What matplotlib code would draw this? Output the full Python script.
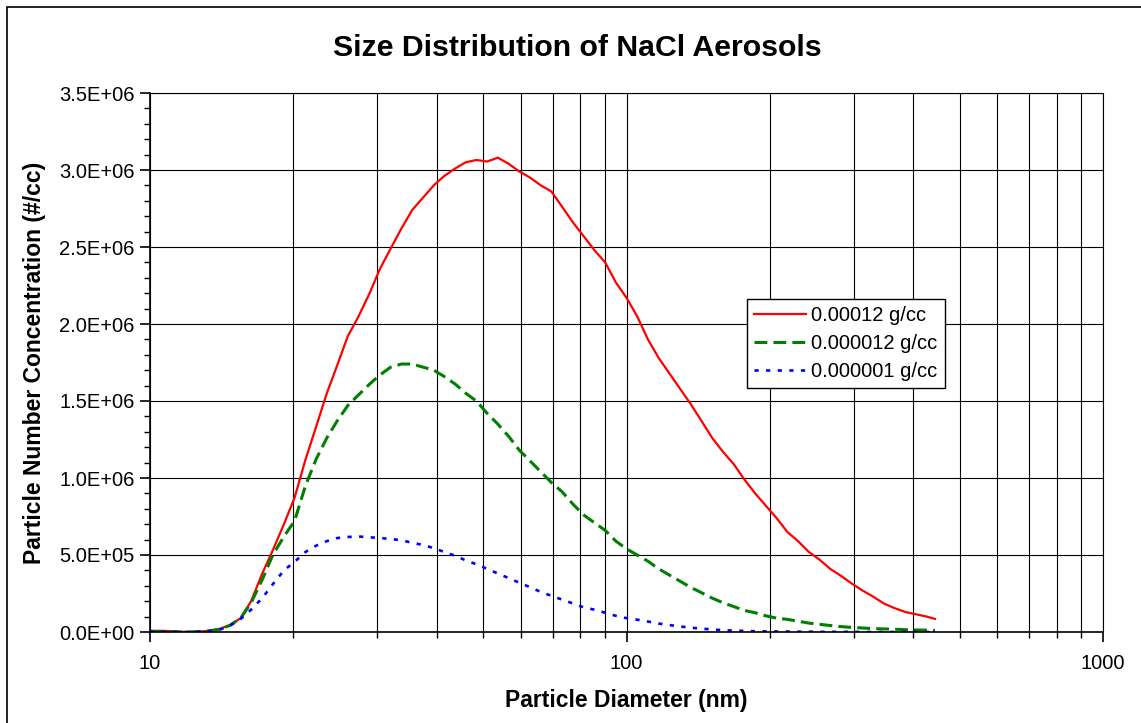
import numpy as np
import matplotlib
matplotlib.use("Agg")
import matplotlib.pyplot as plt
from matplotlib import ticker
from matplotlib.patches import Rectangle

plt.rcParams["font.family"] = ["Liberation Sans", "DejaVu Sans"]

# particle diameter (nm)
diam = [10, 10.5, 11, 11.5, 12, 12.6, 13.3, 14, 14.7, 15.5, 16.3, 17.2, 18.1, 19.1, 20.1,
        21.2, 22.3, 23.5, 24.7, 26.0, 27.4, 28.9, 30.4, 32.0, 33.7, 35.5, 37.4, 39.4, 41.4,
        43.7, 46.0, 48.4, 51.0, 53.7, 56.6, 59.6, 62.8, 66.1, 69.6, 73.3, 77.2, 81.3, 85.6,
        90.2, 95.0, 100, 105.3, 110.9, 116.8, 123, 129.5, 136.4, 143.7, 151.3, 159.4, 167.9,
        176.8, 186.2, 196.1, 206.5, 217.5, 229.1, 241.3, 254.1, 267.6, 281.8, 296.8, 312.6,
        329.2, 346.8, 365.2, 384.6, 405.1, 426.6, 444]

# concentrations in units of 1E6 #/cc
conc_high = [0.008, 0.008, 0.006, 0.002, 0.0, 0.002, 0.008, 0.02, 0.045, 0.09, 0.20, 0.38,
             0.53, 0.70, 0.87, 1.12, 1.33, 1.55, 1.73, 1.92, 2.05, 2.20, 2.36, 2.49, 2.62,
             2.74, 2.82, 2.90, 2.96, 3.01, 3.05, 3.065, 3.055, 3.08, 3.04, 2.99, 2.95, 2.90,
             2.86, 2.76, 2.66, 2.57, 2.48, 2.40, 2.27, 2.17, 2.05, 1.90, 1.78, 1.68, 1.58,
             1.48, 1.37, 1.26, 1.17, 1.09, 0.99, 0.90, 0.82, 0.74, 0.65, 0.59, 0.52, 0.47,
             0.41, 0.365, 0.315, 0.27, 0.23, 0.185, 0.155, 0.13, 0.115, 0.10, 0.085]

conc_mid = [0.003, 0.003, 0.002, 0.001, 0.0, 0.002, 0.007, 0.018, 0.042, 0.09, 0.19, 0.34,
            0.50, 0.62, 0.72, 0.95, 1.12, 1.26, 1.37, 1.47, 1.54, 1.61, 1.67, 1.72, 1.74,
            1.74, 1.72, 1.70, 1.66, 1.61, 1.55, 1.50, 1.42, 1.35, 1.27, 1.18, 1.11, 1.04,
            0.97, 0.91, 0.83, 0.76, 0.71, 0.66, 0.59, 0.54, 0.50, 0.46, 0.41, 0.37, 0.33,
            0.29, 0.255, 0.22, 0.19, 0.165, 0.14, 0.125, 0.105, 0.09, 0.082, 0.07, 0.058,
            0.05, 0.042, 0.035, 0.03, 0.026, 0.022, 0.02, 0.018, 0.015, 0.013, 0.012, 0.01]

conc_low = [0.002, 0.002, 0.001, 0.001, 0.0, 0.002, 0.006, 0.015, 0.04, 0.085, 0.145, 0.22,
            0.31, 0.40, 0.455, 0.52, 0.56, 0.59, 0.61, 0.617, 0.62, 0.615, 0.61, 0.605,
            0.595, 0.58, 0.565, 0.545, 0.52, 0.495, 0.465, 0.44, 0.41, 0.38, 0.35, 0.32,
            0.29, 0.26, 0.235, 0.21, 0.185, 0.16, 0.145, 0.125, 0.105, 0.09, 0.08, 0.068,
            0.055, 0.045, 0.036, 0.028, 0.022, 0.016, 0.012, 0.009, 0.007, 0.005, 0.004,
            0.003, 0.003, 0.002, 0.002, 0.001, 0.001, 0.001, 0.001, 0.0, 0.0, 0.0, 0.0,
            0.0, 0.0, 0.0, 0.0]

labels = ["0.00012 g/cc", "0.000012 g/cc", "0.000001 g/cc"]

W, H = 1141, 723
fig = plt.figure(figsize=(W / 100, H / 100), dpi=100)
ax = fig.add_axes([150 / W, 1 - 632 / H, (1103 - 150) / W, (632 - 93) / H])

d = np.array(diam)
ax.plot(d, np.array(conc_high) * 1e6, color="red", lw=1.6, label=labels[0])
ax.plot(d, np.array(conc_mid) * 1e6, color="green", lw=2.2, dashes=(4.2, 2), label=labels[1])
ax.plot(d, np.array(conc_low) * 1e6, color="blue", lw=1.9, dashes=(1.6, 2.8), label=labels[2])

ax.set_xscale("log")
ax.set_xlim(10, 1000)
ax.set_ylim(0, 3.5e6)

ax.xaxis.set_major_locator(ticker.LogLocator(base=10))
ax.xaxis.set_minor_locator(ticker.LogLocator(base=10, subs=np.arange(2, 10)))
ax.xaxis.set_major_formatter(ticker.FormatStrFormatter("%g"))
ax.xaxis.set_minor_formatter(ticker.NullFormatter())
ax.yaxis.set_major_locator(ticker.MultipleLocator(5e5))
ax.yaxis.set_minor_locator(ticker.MultipleLocator(1e5))
ax.yaxis.set_major_formatter(ticker.FuncFormatter(lambda v, p: f"{v:.1E}"))

ax.grid(True, which="major", axis="both", color="black", lw=0.8)
ax.grid(True, which="minor", axis="x", color="black", lw=0.8)

ax.tick_params(axis="both", which="major", direction="out", length=7, width=1.2,
               labelsize=14.5, colors="black")
ax.tick_params(axis="both", which="minor", direction="out", length=4.5, width=1)
ax.tick_params(axis="y", which="major", pad=4)
ax.tick_params(axis="x", which="major", pad=9)
for s in ["left", "bottom"]:
    ax.spines[s].set_linewidth(1.2)
for s in ["top", "right"]:
    ax.spines[s].set_linewidth(0.8)

ax.set_xlabel("Particle Diameter (nm)", fontsize=16.5, fontweight="bold")
ax.set_ylabel("Particle Number Concentration (#/cc)", fontsize=16.5, fontweight="bold")
ax.xaxis.set_label_coords(0.5, -(689 - 632) / 539)
ax.yaxis.set_label_coords((46 - 150) / 953, 0.5)

fig.text(577 / W, 1 - 48 / H, "Size Distribution of NaCl Aerosols", ha="center",
         va="center", fontsize=21.8, fontweight="bold")

leg = ax.legend(loc="upper left", bbox_to_anchor=((747 - 150) / 953, (632 - 299) / 539),
                borderaxespad=0, fontsize=14.5, fancybox=False, framealpha=1,
                edgecolor="black", handlelength=2.6, handletextpad=0.25,
                labelspacing=0.45, borderpad=0.35)
leg.get_frame().set_linewidth(1)

fig.patches.append(Rectangle((7 / W, -0.1), 1.2, 1 - 7 / H + 0.1, transform=fig.transFigure,
                             fill=False, edgecolor="black", lw=1.2))

fig.savefig("out.png", dpi=100)
